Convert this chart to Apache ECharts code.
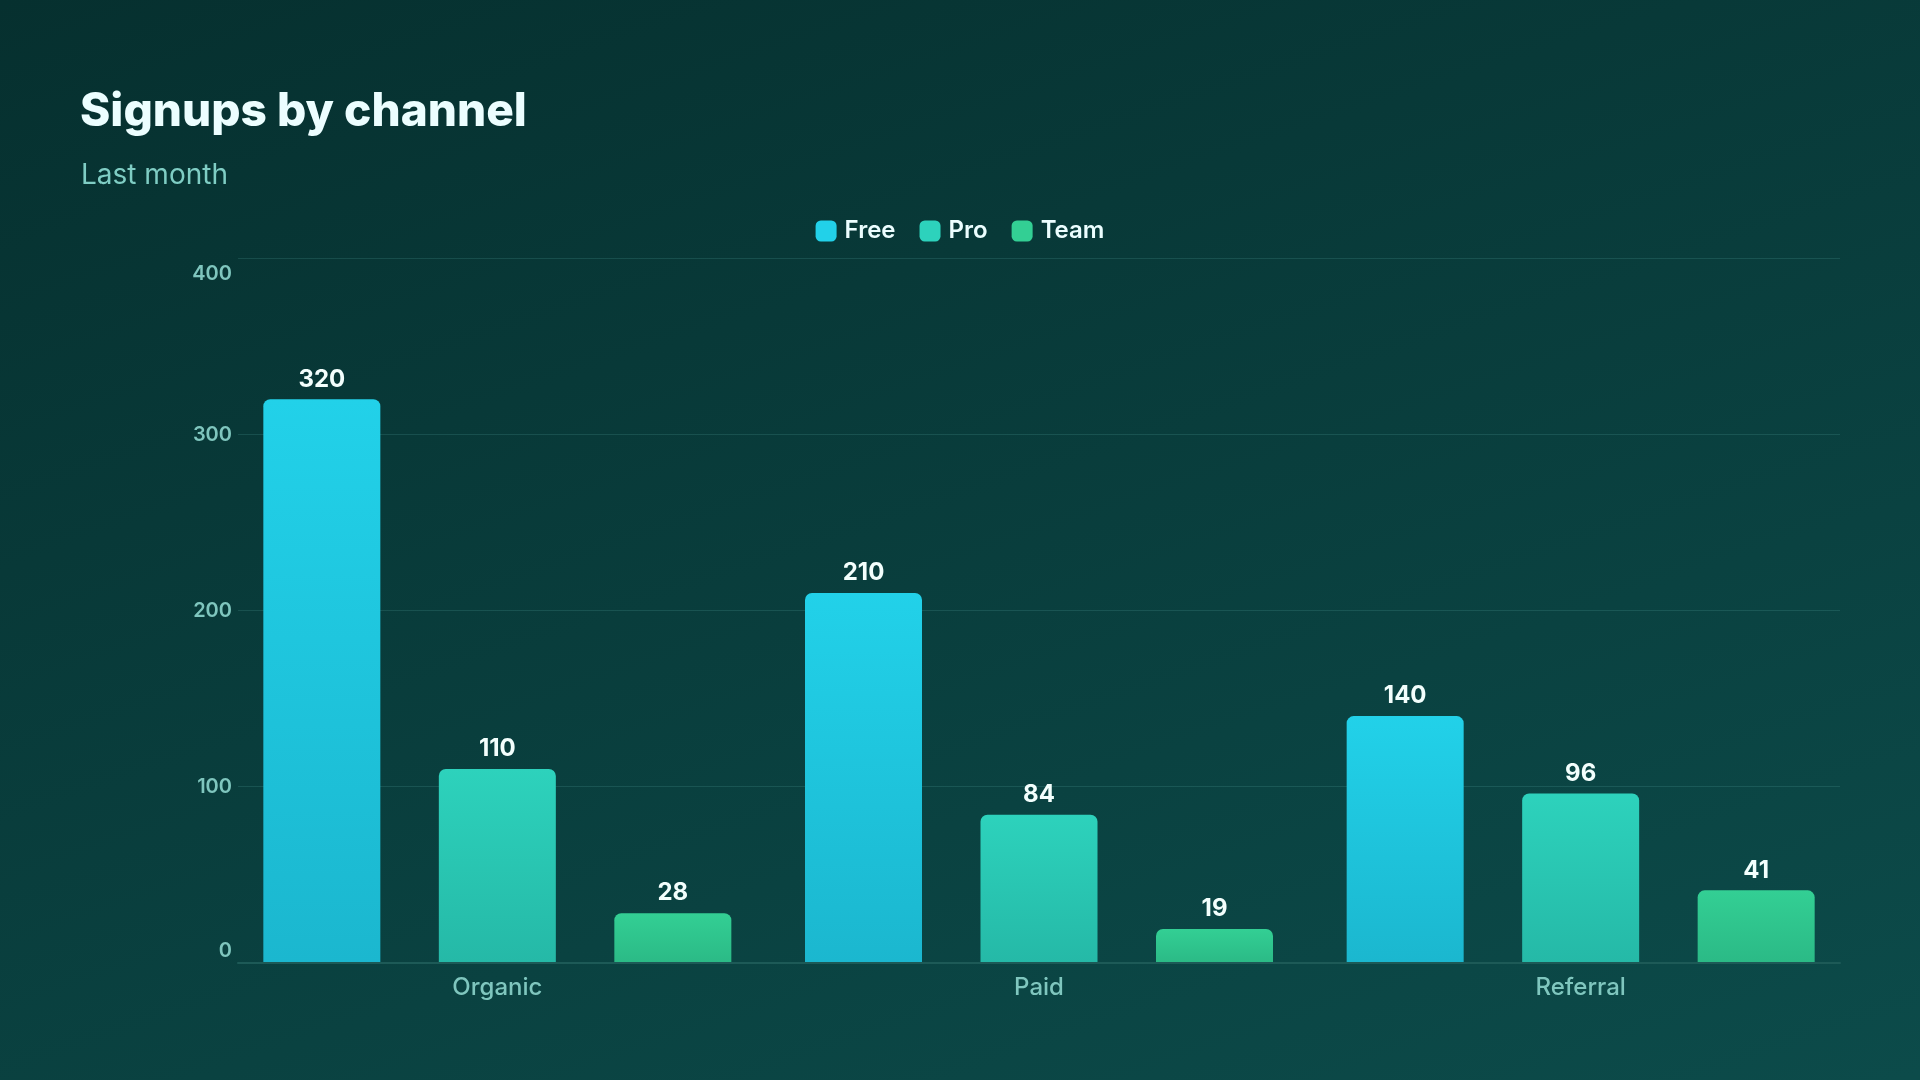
<!DOCTYPE html>
<html>
<head>
<meta charset="utf-8">
<style>
  html, body { margin: 0; padding: 0; width: 1920px; height: 1080px; overflow: hidden; background: #073634; }
  #chart { width: 1920px; height: 1080px; }
</style>
<script src="https://cdn.jsdelivr.net/npm/echarts@6/dist/echarts.min.js"></script>
</head>
<body>
<div id="chart"></div>
<script>
const categories = ['Organic', 'Paid', 'Referral'];
const seriesNames = ['Free', 'Pro', 'Team'];
const freeValues = [320, 210, 140];
const proValues = [110, 84, 96];
const teamValues = [28, 19, 41];
const yMin = 0, yMax = 400, yInterval = 100;

const FONT = 'Inter, "Noto Sans", sans-serif';
const topColors = ['#22d1e9', '#2dd2bc', '#33cf94'];
const bottomColors = ['#1bb7cf', '#25b9a7', '#2bba86'];

function grad(i) {
  return {
    type: 'linear', x: 0, y: 0, x2: 0, y2: 1,
    colorStops: [
      { offset: 0, color: topColors[i] },
      { offset: 1, color: bottomColors[i] }
    ]
  };
}

const valueSets = [freeValues, proValues, teamValues];

const chart = echarts.init(document.getElementById('chart'), null, { renderer: 'canvas' });

const yLabelRich = {
  n: { fontFamily: FONT, fontSize: 20, fontWeight: 600, color: '#7fc6be' },
  top: { fontFamily: FONT, fontSize: 20, fontWeight: 600, color: '#7fc6be', padding: [30, 0, 0, 0] },
  bot: { fontFamily: FONT, fontSize: 20, fontWeight: 600, color: '#7fc6be', padding: [0, 0, 24, 0] }
};

const option = {
  backgroundColor: {
    type: 'linear', x: 0, y: 0, x2: 0.27, y2: 1.43,
    colorStops: [
      { offset: 0, color: '#06302f' },
      { offset: 1, color: '#0c4b4a' }
    ]
  },
  animation: false,
  textStyle: { fontFamily: FONT },
  title: [
    {
      text: 'Signups by channel',
      left: 75, top: 84,
      textStyle: { fontFamily: FONT, fontSize: 46, fontWeight: 800, color: '#ecfeff' }
    },
    {
      text: 'Last month',
      left: 76, top: 157,
      textStyle: { fontFamily: FONT, fontSize: 28, fontWeight: 400, color: '#7fcdc4' }
    }
  ],
  legend: {
    top: 214,
    left: 'center',
    itemWidth: 21,
    itemHeight: 21,
    itemGap: 24,
    icon: 'roundRect',
    data: seriesNames.map((n, i) => ({ name: n, itemStyle: { color: topColors[i] } })),
    textStyle: { fontFamily: FONT, fontSize: 24, fontWeight: 600, color: '#ecfeff', padding: [0, 0, 0, 3] }
  },
  grid: [
    { left: 226.5, right: 68.5, top: 258.5, bottom: 117.5 },
    { left: 238, right: 80, top: 258.5, bottom: 117.5 }
  ],
  xAxis: [
    {
      type: 'category', gridIndex: 0, data: categories,
      axisLine: { show: false }, axisTick: { show: false },
      axisLabel: { margin: 13, fontFamily: FONT, fontSize: 24, fontWeight: 500, color: '#7fc6be' },
      splitLine: { show: false }
    },
    {
      type: 'category', gridIndex: 1, data: categories,
      axisLine: { show: true, lineStyle: { color: '#1d5a57', width: 2 } },
      axisTick: { show: false }, axisLabel: { show: false }, splitLine: { show: false },
      z: 3
    }
  ],
  yAxis: [
    {
      type: 'value', gridIndex: 0, min: yMin, max: yMax, interval: yInterval,
      axisLine: { show: false }, axisTick: { show: false },
      axisLabel: { show: false }, splitLine: { show: false }
    },
    {
      type: 'value', gridIndex: 1, min: yMin, max: yMax, interval: yInterval,
      axisLine: { show: false }, axisTick: { show: false },
      axisLabel: {
        margin: 6,
        formatter: v => v === yMax ? '{top|' + v + '}' : (v === yMin ? '{bot|' + v + '}' : '{n|' + v + '}'),
        rich: yLabelRich
      },
      splitLine: { show: true, lineStyle: { color: 'rgba(110, 200, 190, 0.16)', width: 1 } }
    }
  ],
  series: seriesNames.map((name, i) => ({
    name: name,
    type: 'bar',
    xAxisIndex: 0,
    yAxisIndex: 0,
    data: valueSets[i],
    barWidth: 117,
    barGap: '50%',
    itemStyle: { color: grad(i), borderRadius: [7, 7, 0, 0] },
    label: {
      show: true, position: 'top', distance: 8,
      fontFamily: FONT, fontSize: 24, fontWeight: 700, color: '#f3fffd'
    }
  }))
};

chart.setOption(option);
</script>
</body>
</html>
